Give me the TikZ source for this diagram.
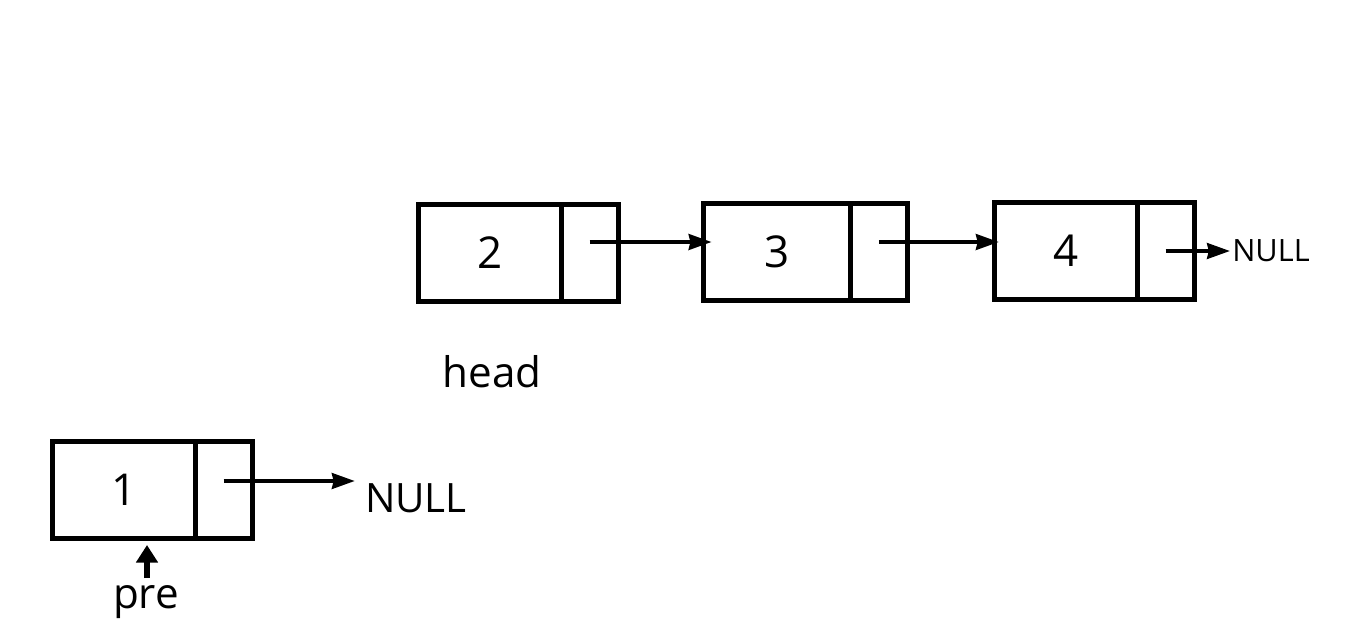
\documentclass[tikz,border=0pt]{standalone}
\usepackage{fontspec}
\setmainfont{Open Sans}
\usepackage{tikz}
\usetikzlibrary{calc,positioning,arrows.meta}

\begin{document}
\begin{tikzpicture}[x=0.02cm,y=-0.02cm,
    data/.style={draw,line width=2.6pt,outer sep=0pt,minimum width=2.85cm,minimum height=1.94cm,inner sep=0pt,font=\fontsize{25}{28}\selectfont},
    ptr/.style={draw,line width=2.6pt,outer sep=0pt,minimum width=1.14cm,minimum height=1.94cm,inner sep=0pt},
    link/.style={line width=2pt,-{Stealth[length=13pt,width=9pt,inset=1pt]}},
    label/.style={font=\fontsize{24}{28}\selectfont,inner sep=0pt}]
        \useasboundingbox (0,0) rectangle (1350,629);

        % list: 2 -> 3 -> 4 -> NULL
        \node[data] (n2d) at (490,253) {2};
        \node[ptr, right=0pt of n2d] (n2p) {};
        \node[data,minimum width=2.94cm] (n3d) at (777,252) {3};
        \node[ptr, right=0pt of n3d] (n3p) {};
        \node[data] (n4d) at (1066,251) {4};
        \node[ptr, right=0pt of n4d] (n4p) {};
        \node[font=\fontsize{17.5}{20}\selectfont,inner sep=0pt] (null4) at (1271,251) {NULL};

        \draw[link] ($(n2p.center)+(0,-11)$) -- ($(n3d.west)+(8,-10)$);
        \draw[link] ($(n3p.center)+(0,-10)$) -- ($(n4d.west)+(4,-9)$);
        \draw[link] (n4p.center) -- ($(null4.west)+(-2,0)$);

        \node[label,anchor=base] (head) at (492,387) {head};

        % removed node 1
        \node[data] (n1d) at (124,490) {1};
        \node[ptr, right=0pt of n1d] (n1p) {};
        \node[font=\fontsize{23}{26}\selectfont,inner sep=0pt] (null1) at (416,498) {NULL};
        \draw[link] ($(n1p.center)+(0,-9)$) -- ($(null1.west)+(-10,-17)$);

        \node[label,anchor=base] (pre) at (146,608) {pre};
        \coordinate (preTip) at (147,545);
        \coordinate (preTail) at (147,578);
        \draw[line width=3.6pt,-{Triangle[length=10pt,width=12pt]}] (preTail) -- (preTip);
    \end{tikzpicture}
\end{document}
